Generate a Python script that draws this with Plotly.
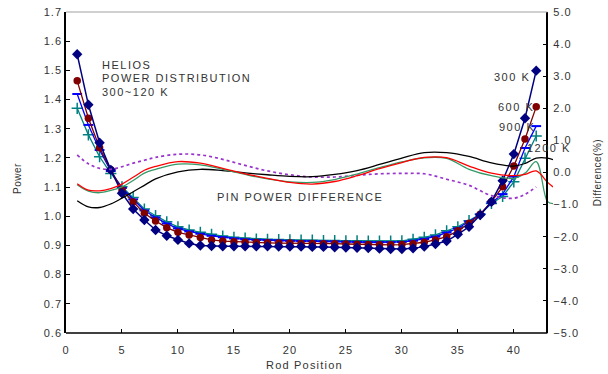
import plotly.graph_objects as go

rods = list(range(1, 43))

p300 = [1.555, 1.382, 1.252, 1.159, 1.079, 1.025, 0.987, 0.953, 0.933, 0.919,
        0.907, 0.900, 0.898, 0.897, 0.897, 0.897, 0.897, 0.897, 0.896, 0.896,
        0.896, 0.895, 0.895, 0.894, 0.893, 0.892, 0.891, 0.889, 0.888, 0.888,
        0.890, 0.896, 0.905, 0.915, 0.938, 0.964, 1.004, 1.050, 1.122, 1.213,
        1.336, 1.499]
p600 = [1.464, 1.336, 1.235, 1.159, 1.090, 1.049, 1.010, 0.984, 0.961, 0.945,
        0.936, 0.927, 0.919, 0.915, 0.913, 0.911, 0.910, 0.909, 0.908, 0.908,
        0.907, 0.907, 0.906, 0.906, 0.905, 0.904, 0.903, 0.902, 0.902, 0.903,
        0.906, 0.911, 0.919, 0.930, 0.950, 0.976, 1.007, 1.050, 1.101, 1.172,
        1.265, 1.375]
p900 = [1.419, 1.313, 1.227, 1.155, 1.097, 1.058, 1.020, 0.996, 0.975, 0.958,
        0.948, 0.940, 0.933, 0.928, 0.924, 0.921, 0.919, 0.918, 0.917, 0.916,
        0.915, 0.915, 0.914, 0.914, 0.913, 0.912, 0.911, 0.911, 0.911, 0.912,
        0.916, 0.922, 0.930, 0.944, 0.959, 0.982, 1.007, 1.046, 1.076, 1.136,
        1.234, 1.309]
p1200 = [1.370, 1.279, 1.204, 1.147, 1.101, 1.064, 1.025, 1.002, 0.981, 0.964,
         0.953, 0.945, 0.938, 0.932, 0.928, 0.925, 0.922, 0.921, 0.920, 0.919,
         0.918, 0.918, 0.917, 0.917, 0.916, 0.916, 0.915, 0.915, 0.915, 0.916,
         0.921, 0.928, 0.936, 0.950, 0.964, 0.985, 1.007, 1.044, 1.068, 1.118,
         1.199, 1.275]

# Pin power difference curves (%), right axis
diff_x = [1, 2, 3, 4, 5, 6, 7, 8, 10, 12, 14, 16, 18, 20, 22, 24, 26, 28, 30,
          32, 34, 36, 38, 40, 41, 42, 43, 43.5]
diff_red = [-0.35, -0.55, -0.57, -0.50, -0.36, -0.15, 0.07, 0.19, 0.34, 0.29,
            0.13, -0.04, -0.18, -0.31, -0.36, -0.28, -0.10, 0.12, 0.31, 0.47,
            0.46, 0.20, -0.02, -0.10, -0.06, 0.05, -0.30, -0.45]
diff_green = [-0.38, -0.58, -0.63, -0.56, -0.45, -0.25, -0.02, 0.10, 0.26, 0.24,
              0.10, -0.06, -0.20, -0.29, -0.31, -0.22, -0.05, 0.15, 0.33, 0.46,
              0.44, 0.10, -0.10, -0.18, -0.02, 0.34, -0.90, -0.97]
diff_black = [-0.88, -1.07, -1.09, -0.98, -0.80, -0.60, -0.40, -0.20, 0.02, 0.10,
              0.06, -0.01, -0.07, -0.12, -0.13, -0.06, 0.06, 0.25, 0.45, 0.62,
              0.62, 0.50, 0.30, 0.20, 0.28, 0.45, 0.45, 0.40]
purple_x = [1, 2, 3, 4, 5, 6, 7, 8, 10, 12, 14, 16, 18, 20, 22, 24, 26, 28, 30,
            32, 34, 36, 38, 40, 41, 42]
diff_purple = [0.55, 0.27, 0.13, 0.10, 0.18, 0.29, 0.38, 0.47, 0.57, 0.55,
               0.41, 0.22, 0.05, -0.07, -0.14, -0.14, -0.09, -0.04, -0.03, -0.04,
               -0.21, -0.40, -0.72, -0.80, -0.68, -0.45]

x_ticks = [0, 5, 10, 15, 20, 25, 30, 35, 40]
x_labels = ["0", "5", "10", "15", "20", "25", "30", "35", "40"]
y_ticks = [0.6, 0.7, 0.8, 0.9, 1.0, 1.1, 1.2, 1.3, 1.4, 1.5, 1.6, 1.7]
y_labels = ["0.6", "0.7", "0.8", "0.9", "1.0", "1.1", "1.2", "1.3", "1.4", "1.5", "1.6", "1.7"]
y2_ticks = [-5, -4, -3, -2, -1, 0, 1, 2, 3, 4, 5]
y2_labels = ["\u22125.0", "\u22124.0", "\u22123.0", "\u22122.0", "\u22121.0", "0.0",
             "1.0", "2.0", "3.0", "4.0", "5.0"]

FONT = "Liberation Sans, Arial, sans-serif"
TXT = "#333333"


def sp(t, ls=1.0):
    return '<span style="letter-spacing:%.1fpx">%s</span>' % (ls, t)


fig = go.Figure()

# difference curves (behind)
fig.add_trace(go.Scatter(x=purple_x, y=diff_purple, yaxis="y2", mode="lines",
                         line=dict(color="#9933cc", width=1.7, dash="dot", shape="spline")))
fig.add_trace(go.Scatter(x=diff_x, y=diff_black, yaxis="y2", mode="lines",
                         line=dict(color="#000000", width=1.3, shape="spline")))
fig.add_trace(go.Scatter(x=diff_x, y=diff_green, yaxis="y2", mode="lines",
                         line=dict(color="#339966", width=1.3, shape="spline")))
fig.add_trace(go.Scatter(x=diff_x, y=diff_red, yaxis="y2", mode="lines",
                         line=dict(color="#ff0000", width=1.3, shape="spline")))

# power distributions
fig.add_trace(go.Scatter(x=rods, y=p1200, mode="lines+markers",
                         line=dict(color="#008080", width=1.3),
                         marker=dict(symbol="cross-thin", size=8,
                                     line=dict(color="#008080", width=1.5))))
fig.add_trace(go.Scatter(x=rods, y=p900, mode="lines+markers",
                         line=dict(color="#0000ff", width=1.3),
                         marker=dict(symbol="line-ew", size=7,
                                     line=dict(color="#0000ff", width=2))))
fig.add_trace(go.Scatter(x=rods, y=p600, mode="lines+markers",
                         line=dict(color="#800000", width=1.3),
                         marker=dict(symbol="circle", size=7.5, color="#800000")))
fig.add_trace(go.Scatter(x=rods, y=p300, mode="lines+markers",
                         line=dict(color="#000080", width=1.5),
                         marker=dict(symbol="diamond", size=8, color="#000080")))

xmax = 43.5
pos_right = 43 / xmax

fig.update_layout(
    width=608, height=374,
    margin=dict(l=66, r=55, t=12, b=41, autoexpand=False),
    paper_bgcolor="white", plot_bgcolor="white",
    showlegend=False,
    font=dict(family=FONT, size=11, color=TXT),
    xaxis=dict(range=[0, xmax], tickvals=x_ticks, ticktext=[sp(t) for t in x_labels],
               ticks="inside", ticklen=4, automargin=False,
               tickcolor="black", showline=False, showgrid=False, zeroline=False,
               ticklabelstandoff=9, tickfont=dict(size=11, color=TXT)),
    yaxis=dict(range=[0.6, 1.7], tickvals=y_ticks, ticktext=[sp(t) for t in y_labels],
               ticks="inside", ticklen=4, tickcolor="black", automargin=False,
               showline=True, linecolor="black", linewidth=1.5,
               showgrid=False, zeroline=False, tickfont=dict(size=11, color=TXT)),
    yaxis2=dict(range=[-5, 5], tickvals=y2_ticks, ticktext=[sp(t) for t in y2_labels],
                overlaying="y", side="right", anchor="free", position=pos_right,
                ticks="inside", ticklen=4, tickcolor="black", automargin=False,
                showline=True, linecolor="black", linewidth=1.5,
                ticklabelstandoff=3,
                showgrid=False, zeroline=False, tickfont=dict(size=11, color=TXT)),
)

# bottom axis line and top border
fig.add_shape(type="line", xref="x", yref="paper", x0=0, x1=43, y0=0, y1=0,
              line=dict(color="black", width=1.5))
fig.add_shape(type="line", xref="x", yref="paper", x0=0, x1=43, y0=1, y1=1,
              line=dict(color="#a0a0a0", width=1))


def note(text, x, y, xanchor="left", xref="x", yref="y", angle=0, size=11, ls=1.5):
    fig.add_annotation(text=sp(text, ls), x=x, y=y, xref=xref, yref=yref,
                       xanchor=xanchor, yanchor="middle", showarrow=False,
                       textangle=angle, font=dict(family=FONT, size=size, color=TXT))


note("HELIOS", 3.0, 1.518)
note("POWER DISTRIBUTION", 3.0, 1.474)
note("300~120 K", 3.0, 1.426)
note("PIN POWER DIFFERENCE", 13.3, 1.066)
note("300 K", 41.6, 1.478, xanchor="right")
note("600 K", 42.0, 1.375, xanchor="right")
note("900 K", 42.1, 1.307, xanchor="right")
note("1200 K", 1.0406, 0.576, xanchor="right", xref="paper", yref="paper")

note("Power", -0.0986, 0.483, xanchor="center", xref="paper", yref="paper", angle=-90, size=10, ls=0.5)
note("Difference(%)", 1.092, 0.5, xanchor="center", xref="paper", yref="paper", angle=-90, size=10, ls=0.5)
note("Rod Position", 0.49, -0.0997, xanchor="center", xref="paper", yref="paper", size=11, ls=1.2)

# remove the default 8px body margin so the figure fills the window exactly
fig.write_html("out.html", config={"displayModeBar": False},
               post_script="document.body.style.margin='0';document.body.style.overflow='hidden';")
